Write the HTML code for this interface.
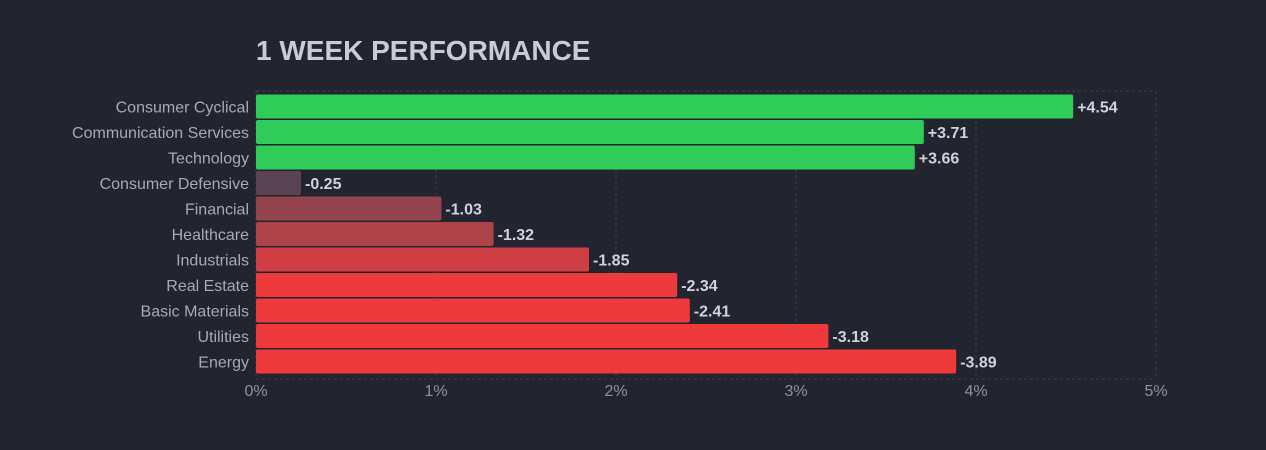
<!DOCTYPE html>
<html><head><meta charset="utf-8"><style>
html,body{margin:0;padding:0;background:#22252f;}
body{width:1266px;height:445px;overflow:hidden;font-family:"Liberation Sans",sans-serif;}
</style></head><body>
<svg id="chart" width="1266" height="445" xmlns="http://www.w3.org/2000/svg">
<rect width="1266" height="445" fill="#22252f"/>
<text x="256" y="60" fill="#c9cbd6" font-size="28" font-weight="bold">1 WEEK PERFORMANCE</text>
<g id="grid"></g><g id="bars"></g><g id="labels"></g>
</svg>
<script>
const categories=["Consumer Cyclical","Communication Services","Technology","Consumer Defensive","Financial","Healthcare","Industrials","Real Estate","Basic Materials","Utilities","Energy"];
const values=[4.54,3.71,3.66,-0.25,-1.03,-1.32,-1.85,-2.34,-2.41,-3.18,-3.89];
const ticks=[0,1,2,3,4,5];
const NS="http://www.w3.org/2000/svg";
const x0=256,pxPer=180,topY=94.5,pitch=25.5,bh=24;
const xs=v=>x0+Math.abs(v)*pxPer;
const ys=i=>topY+i*pitch;
function mk(t,a,p){const e=document.createElementNS(NS,t);for(const k in a)e.setAttribute(k,a[k]);p.appendChild(e);return e;}
function color(v){if(v>=0)return"#30cc5a";const a=Math.abs(v);
 if(a<0.5)return"#5a4452";if(a<1.2)return"#93444d";if(a<1.6)return"#ad4349";if(a<2)return"#cf3e44";return"#ef3a3c";}
const g=document.getElementById('grid'),b=document.getElementById('bars'),l=document.getElementById('labels');
const gTop=91,gBot=ys(categories.length)+4;
ticks.forEach(t=>{
 const ln=mk('line',{x1:xs(t),x2:xs(t),y1:gTop,y2:gBot,stroke:"#3a3e4c","stroke-dasharray":"3,3"},g);
 
 
 const tx=mk('text',{x:xs(t),y:396,fill:"#8d91a2","font-size":"16","text-anchor":"middle"},l);
 tx.textContent=t+"%";
 
 
});
const hl=mk('line',{x1:x0,x2:xs(5),y1:gTop,y2:gTop,stroke:"#3a3e4c","stroke-dasharray":"3,3"},g);


const hb=mk('line',{x1:x0,x2:xs(5),y1:gBot,y2:gBot,stroke:"#3a3e4c","stroke-dasharray":"3,3"},g);


categories.forEach((c,i)=>{
 const v=values[i],y=ys(i);
 const r=mk('rect',{x:x0,y:y,width:xs(v)-x0,height:bh,rx:2,fill:color(v)},b);
 
 
 const cl=mk('text',{x:249,y:y+bh/2+6,fill:"#a6a9b8","font-size":"16","text-anchor":"end"},l);
 cl.textContent=c;
 
 
 const vl=mk('text',{x:xs(v)+4,y:y+bh/2+6,fill:"#d0d2dc","font-size":"16","font-weight":"bold"},l);
 vl.textContent=(v>0?"+":"")+v.toFixed(2);
 
 
});
</script>
</body></html>
